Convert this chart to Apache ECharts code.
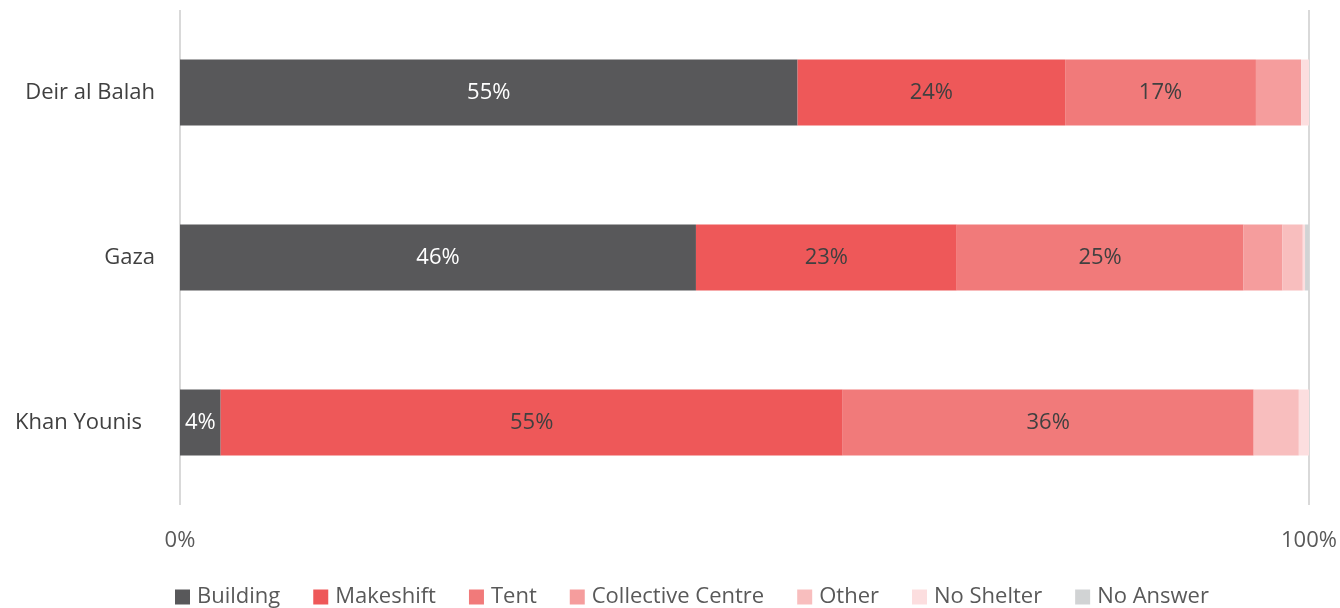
<!DOCTYPE html>
<html><head><meta charset="utf-8">
<script src="https://cdn.jsdelivr.net/npm/echarts@6/dist/echarts.min.js"></script>
<style>html,body{margin:0;padding:0;background:#fff}#c{width:1340px;height:608px}</style>
</head><body><div id="c"></div>
<script>
const categories = ['Deir al Balah', 'Gaza', 'Khan Younis'];
const seriesNames = ['Building', 'Makeshift', 'Tent', 'Collective Centre', 'Other', 'No Shelter', 'No Answer'];
const building = [54.7, 45.7, 3.6];
const makeshift = [23.7, 23.1, 55.1];
const tent = [16.9, 25.4, 36.4];
const collective = [4.0, 3.45, 0];
const other = [0, 1.8, 4.0];
const noShelter = [0.7, 0.2, 0.9];
const noAnswer = [0, 0.35, 0];
const xTicks = [0, 100];

const colors = ['#58585A', '#EE5859', '#F17A7A', '#F59D9D', '#F8BEBE', '#FCDEDF', '#D1D3D4'];
const values = [building, makeshift, tent, collective, other, noShelter, noAnswer];
const FONT = '"Open Sans", sans-serif';
const FS = 22;

const series = seriesNames.map((name, i) => ({
  name, type: 'bar', stack: 'total', barWidth: '40%',
  data: values[i],
  itemStyle: { color: colors[i] },
  label: {
    show: i < 3, position: 'inside',
    color: i === 0 ? '#ffffff' : '#404040',
    fontFamily: FONT, fontSize: FS,
    formatter: p => Math.round(p.value) + '%'
  },
  emphasis: { disabled: true }
}));

const chart = echarts.init(document.getElementById('c'));
chart.setOption({
  animation: false,
  grid: { left: 180, right: 31, top: 10, bottom: 103, containLabel: false },
  xAxis: {
    type: 'value', min: 0, max: 100, interval: 100,
    axisLine: { show: false }, axisTick: { show: false },
    splitLine: { show: true, lineStyle: { color: '#D9D9D9', width: 2 } },
    axisLabel: { color: '#595959', fontFamily: FONT, fontSize: FS, margin: 25,
      formatter: v => xTicks.includes(v) ? v + '%' : '' }
  },
  yAxis: {
    type: 'category', data: categories, inverse: true,
    axisLine: { show: false }, axisTick: { show: false },
    axisLabel: { color: '#404040', fontFamily: FONT, fontSize: FS, margin: 25,
      formatter: v => v === 'Khan Younis' ? '{k|' + v + '}' : v,
      rich: { k: { fontFamily: FONT, fontSize: FS, color: '#404040', padding: [0, 13, 0, 0] } }
    }
  },
  legend: {
    bottom: -5, left: 170, itemWidth: 15, itemHeight: 15, itemGap: 33,
    icon: 'rect',
    textStyle: { color: '#595959', fontFamily: FONT, fontSize: FS, padding: [0, 0, 0, 2] },
    data: seriesNames
  },
  series
});
</script></body></html>
